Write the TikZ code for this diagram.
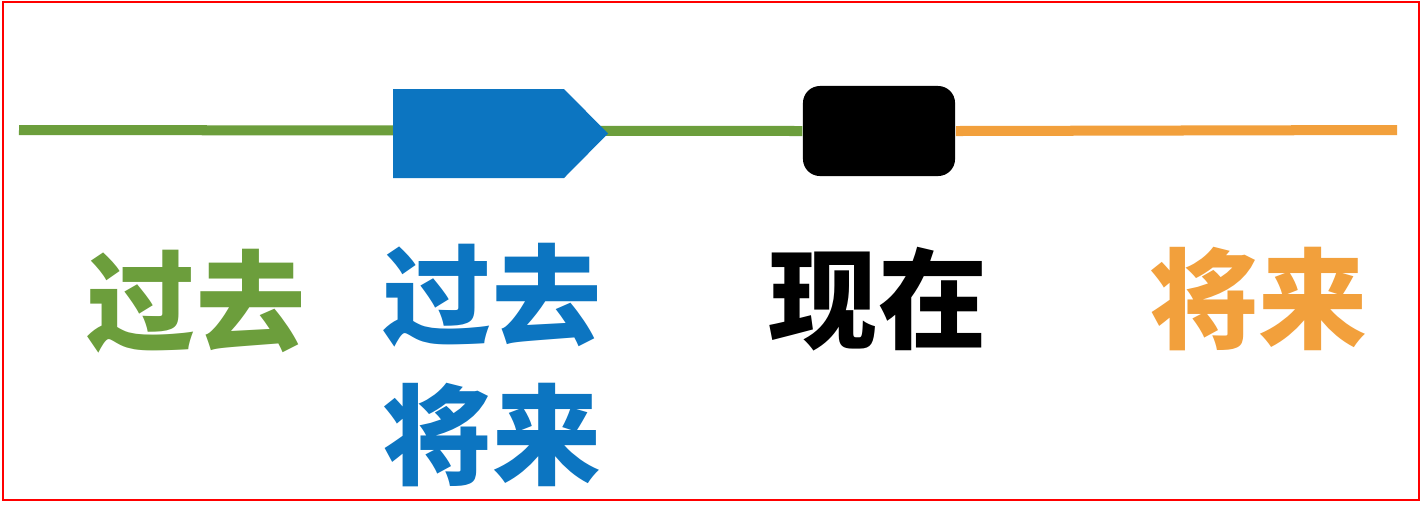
\documentclass[tikz,border=0pt]{standalone}
\usepackage{fontspec}
\newfontfamily\cjk{Noto Sans CJK SC}
\definecolor{pastgreen}{RGB}{108,158,60}
\definecolor{spanblue}{RGB}{12,117,193}
\definecolor{futureorange}{RGB}{242,160,60}
\tikzset{
  zeit/.style={line width=0.1cm},
  wort/.style={inner sep=0pt,align=center,font=\cjk\bfseries\fontsize{31}{40}\selectfont},
}
\begin{document}
\begin{tikzpicture}[x=0.01cm,y=-0.01cm]
    \useasboundingbox (0,0) rectangle (1422,505);
    \fill[white] (0,0) rectangle (1422,505);
    \draw[red,line width=0.6pt] (3,2) rectangle (1419,500);
    \coordinate (debut) at (19,130);
    \coordinate (fin) at (1397,130);
    \node[fill=black,rounded corners=0.17cm,minimum width=1.52cm,minimum height=0.9cm,inner sep=0pt] (jetzt) at (879,131) {};
    \draw[zeit,pastgreen] (debut) -- (jetzt.west);
    \draw[zeit,futureorange] (jetzt.east) -- (fin);
    \fill[spanblue] (393,89) -- (564,89) -- (608,133.5) -- (564,178) -- (393,178) -- cycle;
    \node[wort,pastgreen] (vorher) at (196,301) {过去};
    \node[wort,spanblue] (beide) at (492,365) {过去\\将来};
    \node[wort] (heute) at (878,299) {现在};
    \node[wort,futureorange] (spaeter) at (1258,299) {将来};
\end{tikzpicture}
\end{document}
